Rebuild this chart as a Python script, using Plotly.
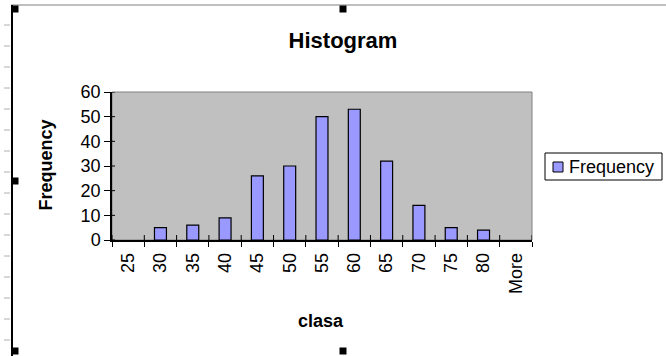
import plotly.graph_objects as go

categories = ["25", "30", "35", "40", "45", "50", "55", "60", "65", "70", "75", "80", "More"]
frequency = [0, 5, 6, 9, 26, 30, 50, 53, 32, 14, 5, 4, 0]
y_ticks = [0, 10, 20, 30, 40, 50, 60]
series_name = "Frequency"

OFF = 0  # body margin removed via post_script
W, H = 666, 356
ML, MT = 112, 92
PW, PH = 420, 148
MR, MB = W - ML - PW, H - MT - PH
FONT = "Liberation Sans, Arial, sans-serif"
BAR_COLOR = "#9999FF"


def px(x):
    return (x - OFF - ML) / PW


def py(y):
    return (H - MB - (y - OFF)) / PH


fig = go.Figure()
fig.add_trace(go.Bar(
    x=categories, y=frequency, name=series_name, showlegend=False,
    marker=dict(color=BAR_COLOR,
                line=dict(color="black", width=[1.2 if v > 0 else 0 for v in frequency])),
))

shapes = []
shapes.append(dict(type="rect", xref="x domain", yref="y domain", x0=0, x1=1, y0=0, y1=1,
                   line=dict(color="#808080", width=1), layer="below"))
for v in y_ticks:
    shapes.append(dict(type="line", xref="x domain", yref="y", x0=0, x1=3 / PW, y0=v, y1=v,
                       line=dict(color="black", width=1)))
for i in range(len(categories) + 1):
    shapes.append(dict(type="line", xref="x", yref="y domain", x0=i - 0.5, x1=i - 0.5,
                       y0=0, y1=5 / PH, line=dict(color="black", width=1)))

# legend box (drawn manually to match the compact Excel legend)
shapes.append(dict(type="rect", xref="paper", yref="paper", x0=px(545), x1=px(662), y0=py(180), y1=py(153),
                   fillcolor="white", line=dict(color="black", width=1)))
shapes.append(dict(type="rect", xref="paper", yref="paper", x0=px(553), x1=px(563), y0=py(172), y1=py(162),
                   fillcolor=BAR_COLOR, line=dict(color="black", width=1)))

# chart frame decorations (Excel selection frame)
shapes.append(dict(type="line", xref="paper", yref="paper", x0=px(11), x1=px(666), y0=py(5), y1=py(5),
                   line=dict(color="#808080", width=1)))
shapes.append(dict(type="line", xref="paper", yref="paper", x0=px(12), x1=px(12), y0=py(5), y1=py(356),
                   line=dict(color="black", width=2)))
for hy in range(25, 350, 21):
    shapes.append(dict(type="line", xref="paper", yref="paper", x0=px(4), x1=px(10), y0=py(hy), y1=py(hy),
                       line=dict(color="#B0B0B0", width=1)))
for hx, hy in [(15, 9), (15, 181), (15, 351), (343, 9), (343, 351)]:
    shapes.append(dict(type="rect", xref="paper", yref="paper",
                       x0=px(hx - 3.5), x1=px(hx + 3.5), y0=py(hy - 3.5), y1=py(hy + 3.5),
                       fillcolor="black", line=dict(width=0)))

annotations = [
    dict(text="<b>Frequency</b>", xref="paper", yref="paper", x=px(45), y=py(165.5),
         textangle=-90, showarrow=False, font=dict(size=18, color="black", family=FONT),
         xanchor="center", yanchor="middle"),
    dict(text="<b>clasa</b>", xref="paper", yref="paper", x=px(321), y=py(321),
         showarrow=False, font=dict(size=18, color="black", family=FONT),
         xanchor="center", yanchor="middle"),
    dict(text=series_name, xref="paper", yref="paper", x=px(567), y=py(167),
         showarrow=False, font=dict(size=18, color="black", family=FONT),
         xanchor="left", yanchor="middle"),
]

fig.update_layout(
    width=W, height=H,
    margin=dict(l=ML, r=MR, t=MT, b=MB, autoexpand=False),
    paper_bgcolor="white", plot_bgcolor="#C0C0C0",
    font=dict(family=FONT, size=18, color="black"),
    title=dict(text="<b>Histogram</b>", xref="paper", x=px(343), xanchor="center",
               yref="container", y=1 - (40 - OFF) / H, yanchor="middle",
               font=dict(size=22, color="black", family=FONT)),
    bargap=0.63,
    showlegend=False,
    shapes=shapes,
    annotations=annotations,
)
fig.update_xaxes(type="category", categoryorder="array", categoryarray=categories,
                 range=[-0.5, len(categories) - 0.5],
                 showline=True, linecolor="black", linewidth=1.5, mirror=False,
                 ticks="outside", tickson="boundaries", ticklen=5, tickcolor="black",
                 tickangle=-90, showgrid=False, zeroline=False,
                 tickfont=dict(size=18, color="black", family=FONT), ticklabelstandoff=4)
fig.update_yaxes(range=[0, 60], tickvals=y_ticks,
                 showline=True, linecolor="black", linewidth=1.5,
                 ticks="outside", ticklen=6, tickcolor="black",
                 showgrid=False, zeroline=False,
                 tickfont=dict(size=18, color="black", family=FONT))

fig.write_html("out.html", config={"displayModeBar": False},
               post_script="document.body.style.margin='0';document.body.style.overflow='hidden';")
